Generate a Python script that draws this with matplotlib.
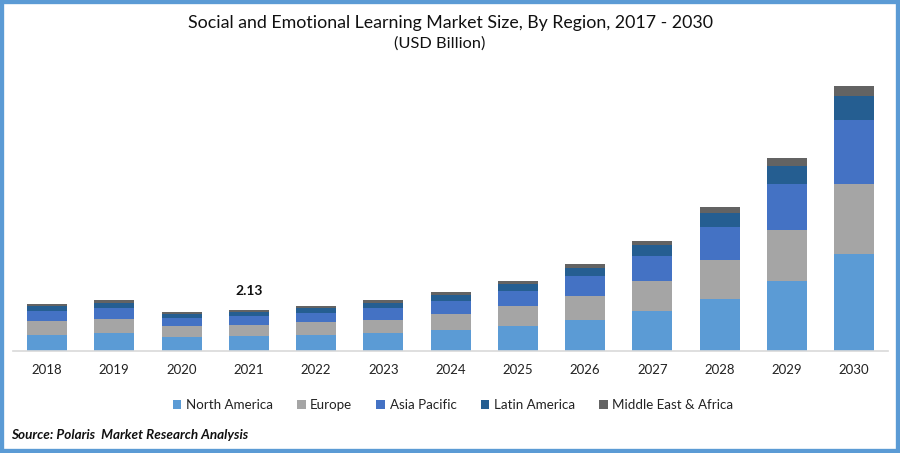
import matplotlib; matplotlib.use("Agg")
import matplotlib.pyplot as plt
from matplotlib.patches import Rectangle
import numpy as np

plt.rcParams["font.family"] = ["Lato", "DejaVu Sans"]

years = ["2018","2019","2020","2021","2022","2023","2024","2025","2026","2027","2028","2029","2030"]
north_america = [0.83,0.94,0.73,0.78,0.83,0.94,1.09,1.30,1.61,2.08,2.70,3.64,5.04]
europe = [0.73,0.73,0.57,0.57,0.68,0.68,0.83,1.04,1.25,1.56,2.03,2.65,3.64]
asia_pacific = [0.52,0.57,0.42,0.47,0.47,0.62,0.68,0.78,1.04,1.30,1.72,2.39,3.33]
latin_america = [0.26,0.26,0.21,0.21,0.26,0.26,0.31,0.36,0.42,0.57,0.73,0.94,1.25]
mea = [0.10,0.16,0.10,0.10,0.10,0.16,0.16,0.16,0.21,0.21,0.31,0.42,0.52]
regions = ["North America","Europe","Asia Pacific","Latin America","Middle East & Africa"]
colors = ["#5B9BD5","#A5A5A5","#4472C4","#255E91","#636363"]
label_year = "2021"
label_text = "2.13"

W, H = 900, 453
fig = plt.figure(figsize=(W/100, H/100), dpi=100)
# blue frame round the whole picture
fig.add_artist(Rectangle((0, 0), 1, 1, transform=fig.transFigure, fill=False, ec="#5B9BD5", lw=6))

# axes box in pixels: x 13-888, y 351 (baseline) up to 60
ax = fig.add_axes([13/W, 1-351/H, 875/W, 291/H])
x = np.arange(len(years))
bottom = np.zeros(len(years))
for name, vals, c in zip(regions, [north_america, europe, asia_pacific, latin_america, mea], colors):
    ax.bar(x, vals, 0.595, bottom=bottom, color=c, label=name, lw=0)
    bottom += np.array(vals)

ax.set_xlim(-0.506, 12.505)
ax.set_ylim(0, 291*0.052)
ax.set_xticks(x, years)
ax.tick_params(axis="x", length=0, pad=9, labelsize=9.5, labelcolor="#222222")
ax.set_yticks([])
for s in ["top","left","right"]:
    ax.spines[s].set_visible(False)
ax.spines["bottom"].set_color("#D9D9D9")
ax.spines["bottom"].set_linewidth(1.2)

i = years.index(label_year)
ax.text(x[i], bottom[i] + 0.67, label_text, ha="center", va="bottom", fontsize=10, fontweight="bold", color="#111111")

fig.text(450/W, 1-23/H, "Social and Emotional Learning Market Size, By Region, 2017 - 2030", ha="center", va="center", fontsize=12.8, color="#111111")
fig.text(440/W, 1-44/H, "(USD Billion)", ha="center", va="center", fontsize=11.8, color="#111111")

ax.legend(loc="center", bbox_to_anchor=(453/W, 1-405/H), bbox_transform=fig.transFigure, ncol=5, frameon=False,
          fontsize=9.6, handlelength=0.65, handleheight=0.65, columnspacing=1.8, handletextpad=0.35, labelcolor="#222222")

fig.text(11/W, 1-435/H, "Source: Polaris  Market Research Analysis", ha="left", va="center", fontsize=9.7,
         fontweight="bold", fontstyle="italic", color="#111111")

fig.savefig("out.png", dpi=100)
